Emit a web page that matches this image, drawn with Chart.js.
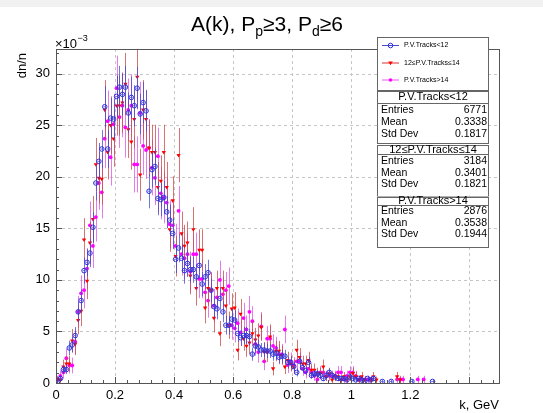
<!DOCTYPE html>
<html>
<head>
<meta charset="utf-8">
<script src="https://cdn.jsdelivr.net/npm/chart.js@4.4.1/dist/chart.umd.min.js"></script>
<style>
  html, body { margin: 0; padding: 0; background: #fff; }
  #wrap { position: relative; width: 543px; height: 413px; }
  #strip { position: absolute; left: 0; top: 0; width: 543px; height: 7px; background: #f1f1f1; }
</style>
</head>
<body>
<div id="wrap"><canvas id="c" width="543" height="413"></canvas><div id="strip"></div></div>
<script>
// histogram binning, k in GeV
const binWidth = 0.01;

const seriesNames = ["P.V.Tracks<12", "12\u2264P.V.Tracks\u226414", "P.V.Tracks>14"];
const entries = [6771, 3184, 2876];
const means = ["0.3338", "0.3401", "0.3538"];
const stdDevs = ["0.1817", "0.1821", "0.1944"];

const xTicks = [0, 0.2, 0.4, 0.6, 0.8, 1, 1.2, 1.4];
const yTicks = [0, 5, 10, 15, 20, 25, 30];

// dn/n per bin, x10^-3 (null = empty bin)
const lowTracks = [
  0.15, 0.44, 1.3, 1.3, 3.4, 3.7, 4.6, 6.9, 8.0, 10.9,
  11.7, 12.6, 15.1, 19.4, 21.5, 22.7, 26.8, 22.7, 25.7, 25.6,
  27.8, 28.7, 28.0, 28.7, 26.2, 27.7, 26.9, 28.6, 26.1, 27.2,
  26.4, 18.6, 20.7, 21.0, 17.9, 17.8, 18.0, 16.6, 15.8, 14.5,
  12.0, 13.1, 12.1, 10.9, 11.6, 11.0, 11.0, 10.3, 11.4, 9.6,
  10.3, 10.7, 9.0, 7.4, 7.2, 8.2, 6.9, 5.6, 5.6, 6.2,
  6.1, 4.8, 4.4, 4.6, 4.6, 4.5, 2.8, 3.6, 3.5, 3.2,
  3.2, 3.1, 3.1, 2.8, 2.9, 2.5, 2.6, 2.6, 2.0, 2.0,
  1.6, 1.03, 2.1, 1.48, 1.18, 2.0, 0.74, 0.89, 0.89, 0.74,
  0.44, 0.74, 1.03, 0.74, 0.59, 0.44, 0.44, 0.44, 0.3, 0.59,
  0.44, 0.3, 0.44, 0.3, 0.15, 0.44, 0.3, 0.44, null, null,
  0.15, null, null, 0.15, null, null, null, null, null, null,
  0.15, null, null, null, null, null, null, 0.15
];
const midTracks = [
  0.31, 0.31, 1.57, 1.88, 1.88, 4.1, 3.8, 6.1, 7.0, 13.9,
  9.9, 13.6, 15.9, 21.2, 19.9, 19.8, 26.5, 22.4, 25.0, 23.7,
  26.9, 26.9, 27.2, 29.0, 24.6, 23.4, 25.6, 29.7, 20.2, 26.5,
  25.6, 22.8, 22.4, 22.4, 19.0, 19.6, 22.4, 19.0, 14.9, 17.7,
  12.3, 22.1, 14.5, 13.3, 13.6, 10.4, 14.9, 9.2, 12.9, 12.9,
  7.3, 9.2, 9.0, 6.3, 9.2, 4.8, 9.2, 7.5, 5.6, 7.2,
  7.3, 3.2, 6.7, 4.3, 3.6, 3.9, 4.8, 4.2, 4.6, 5.4,
  3.0, 3.0, 4.5, 1.4, 3.1, 3.1, 2.7, 1.57, 2.2, 1.88,
  1.57, 3.2, 2.5, 1.88, 1.88, 2.2, 1.26, 1.26, 0.94, 0.94,
  1.57, 0.63, 0.94, 0.31, 0.63, 0.63, 0.31, 0.63, 0.31, 0.63,
  0.94, 0.63, 0.31, 0.63, 0.31, null, 0.31, 0.63, 0.31, null,
  null, null, null, null, null, 0.63, 0.31
];
const highTracks = [
  0.35, 0.7, 1.04, 2.4, 1.7, 1.7, 4.0, 6.9, 8.7, 9.0,
  11.1, 15.3, 13.3, 16.1, 19.4, 18.5, 23.7, 25.4, 21.9, 25.1,
  28.6, 25.8, 26.9, 24.8, 26.5, 26.9, 21.2, 21.2, 26.2, 23.0,
  22.6, 22.8, 20.9, 19.9, 22.0, 18.4, 18.0, 17.5, 15.4, 15.3,
  13.3, 16.7, 12.5, 12.1, 12.5, 10.8, 12.5, 12.5, 10.1, 10.1,
  8.8, 8.0, 9.0, 7.5, 8.3, 10.0, 8.6, 9.0, 9.4, 5.6,
  5.3, 5.8, 4.9, 6.3, 5.2, 6.9, 6.0, 3.8, 3.0, 5.5,
  2.1, 4.3, 4.3, 3.6, 3.4, 2.8, 2.8, 5.2, 1.74, 2.1,
  1.74, 2.1, 2.1, 1.39, 1.04, 1.39, 1.04, 0.7, 0.35, 1.04,
  1.04, 0.7, 0.7, 0.7, 0.7, 1.04, 1.04, 0.35, 0.7, 1.04,
  1.04, 0.7, 0.35, 0.35, 0.35, 0.35, 0.35, null, null, null,
  null, null, null, null, null, 0.35, 0.35, 0.35, null, null,
  null, null, 0.35, null, 0.35
];

const FONT = "'Liberation Sans', Arial, Helvetica, sans-serif";

function toPoints(vals, n) {
  const pts = [];
  vals.forEach((v, i) => {
    if (v === null) return;
    // poisson error of the bin, same units
    pts.push({ x: (i + 0.5) * binWidth, y: v, ey: Math.sqrt(v * 1000 / n) });
  });
  return pts;
}

const errColors = ["rgba(70,70,215,0.75)", "rgba(200,70,70,0.75)", "rgba(225,90,230,0.8)"];

const errorBars = {
  id: "errorBars",
  beforeDatasetDraw(chart, args) {
    const { ctx, chartArea: a, scales: { x, y } } = chart;
    const ds = chart.data.datasets[args.index];
    ctx.save();
    ctx.beginPath();
    ctx.rect(a.left, a.top, a.right - a.left, a.bottom - a.top);
    ctx.clip();
    ctx.strokeStyle = errColors[args.index];
    ctx.lineWidth = 1;
    ds.data.forEach(p => {
      const px = Math.round(x.getPixelForValue(p.x)) + 0.5;
      const py = y.getPixelForValue(p.y);
      ctx.beginPath();
      ctx.moveTo(px, y.getPixelForValue(p.y + p.ey));
      ctx.lineTo(px, y.getPixelForValue(Math.max(0, p.y - p.ey)));
      ctx.moveTo(x.getPixelForValue(p.x - binWidth / 2), py);
      ctx.lineTo(x.getPixelForValue(p.x + binWidth / 2), py);
      ctx.stroke();
    });
    ctx.restore();
  }
};

function drawTitle(ctx) {
  const parts = [
    { t: "A(k), P" }, { t: "p", sub: true }, { t: "\u22653, P" }, { t: "d", sub: true }, { t: "\u22656" }
  ];
  const big = "21px " + FONT, small = "14px " + FONT;
  let w = 0;
  parts.forEach(p => { ctx.font = p.sub ? small : big; w += ctx.measureText(p.t).width; });
  let cx = 267 - w / 2;
  ctx.fillStyle = "#000";
  ctx.textAlign = "left";
  ctx.textBaseline = "alphabetic";
  parts.forEach(p => {
    ctx.font = p.sub ? small : big;
    ctx.fillText(p.t, cx, p.sub ? 36 : 31);
    cx += ctx.measureText(p.t).width;
  });
}

function drawMarker(ctx, k, cx, cy) {
  ctx.save();
  if (k === 0) {
    ctx.strokeStyle = "#3030d8"; ctx.lineWidth = 1;
    ctx.beginPath(); ctx.arc(cx, cy, 2.3, 0, Math.PI * 2); ctx.stroke();
  } else if (k === 1) {
    ctx.fillStyle = "#ff0000";
    ctx.beginPath(); ctx.moveTo(cx - 2.3, cy - 1.6); ctx.lineTo(cx + 2.3, cy - 1.6); ctx.lineTo(cx, cy + 2.3); ctx.closePath(); ctx.fill();
  } else {
    ctx.fillStyle = "#ff00ff";
    ctx.beginPath(); ctx.arc(cx, cy, 1.8, 0, Math.PI * 2); ctx.fill();
  }
  ctx.restore();
}

const lineColors = ["#4a4ad6", "#e03030", "#ee55ee"];

const decorations = {
  id: "decorations",
  beforeDatasetsDraw(chart) {
    const { ctx, chartArea: a, scales: { x, y } } = chart;
    ctx.save();
    ctx.strokeStyle = "#c6c6c6";
    ctx.lineWidth = 1;
    ctx.setLineDash([3, 3]);
    xTicks.forEach(t => {
      if (t === 0) return;
      const px = Math.round(x.getPixelForValue(t)) + 0.5;
      ctx.beginPath(); ctx.moveTo(px, a.top); ctx.lineTo(px, a.bottom); ctx.stroke();
    });
    yTicks.forEach(t => {
      if (t === 0) return;
      const py = Math.round(y.getPixelForValue(t)) + 0.5;
      ctx.beginPath(); ctx.moveTo(a.left, py); ctx.lineTo(a.right, py); ctx.stroke();
    });
    ctx.restore();
  },
  afterDatasetsDraw(chart) {
    const { ctx, chartArea: a, scales: { x, y } } = chart;
    ctx.save();
    ctx.strokeStyle = "#555";
    ctx.lineWidth = 1;
    // inner tick marks, 5 minor divisions
    for (let i = 0; i * 0.04 <= 1.5 + 1e-9; i++) {
      const px = Math.round(x.getPixelForValue(i * 0.04)) + 0.5;
      const len = i % 5 === 0 ? 6 : 3;
      ctx.beginPath(); ctx.moveTo(px, a.bottom); ctx.lineTo(px, a.bottom - len); ctx.stroke();
    }
    for (let i = 0; i <= 32; i++) {
      const py = Math.round(y.getPixelForValue(i)) + 0.5;
      const len = i % 5 === 0 ? 6 : 3;
      ctx.beginPath(); ctx.moveTo(a.left, py); ctx.lineTo(a.left + len, py); ctx.stroke();
    }
    ctx.strokeRect(Math.round(a.left) + 0.5, Math.round(a.top) + 0.5, Math.round(a.right - a.left), Math.round(a.bottom - a.top));
    ctx.restore();
  },
  afterDraw(chart) {
    const { ctx } = chart;
    ctx.save();
    drawTitle(ctx);

    ctx.fillStyle = "#000";
    ctx.font = "13px " + FONT;
    ctx.textAlign = "left";
    ctx.textBaseline = "alphabetic";
    ctx.fillText("\u00d710", 55, 48);
    const w10 = ctx.measureText("\u00d710").width;
    ctx.font = "9px " + FONT;
    ctx.fillText("\u22123", 55 + w10 + 0.5, 41);

    ctx.font = "13px " + FONT;
    ctx.textAlign = "right";
    ctx.fillText("k, GeV", 499, 409);

    ctx.save();
    ctx.translate(22, 53);
    ctx.rotate(-Math.PI / 2);
    ctx.textAlign = "right";
    ctx.textBaseline = "middle";
    ctx.fillText("dn/n", 0, 0);
    ctx.restore();

    // legend box
    ctx.fillStyle = "#fff";
    ctx.strokeStyle = "#666";
    ctx.lineWidth = 1;
    ctx.fillRect(377, 37, 112, 54);
    ctx.strokeRect(377.5, 37.5, 111, 53);
    const rows = [45.5, 63, 80];
    rows.forEach((ry, k) => {
      ctx.strokeStyle = lineColors[k];
      ctx.beginPath(); ctx.moveTo(382, ry); ctx.lineTo(399, ry); ctx.stroke();
      drawMarker(ctx, k, 390.5, ry);
      ctx.fillStyle = "#000";
      ctx.font = "7px " + FONT;
      ctx.textAlign = "left";
      ctx.textBaseline = "middle";
      ctx.fillText(seriesNames[k], 404, ry);
    });

    // stat boxes
    const boxes = [
      { top: 91, div: 102.5, bottom: 143, title: 96.5, r: [110, 122.3, 134.3] },
      { top: 145, div: 154, bottom: 195.5, title: 149.5, r: [160.7, 172.7, 184.3] },
      { top: 196.5, div: 205, bottom: 246.5, title: 201, r: [211, 222.7, 234.3] }
    ];
    boxes.forEach((b, k) => {
      ctx.fillStyle = "#fff";
      ctx.fillRect(377, b.top, 112, b.bottom - b.top);
      ctx.strokeStyle = "#666";
      ctx.strokeRect(377.5, Math.round(b.top) + 0.5, 111, Math.round(b.bottom - b.top));
      ctx.beginPath(); ctx.moveTo(377.5, Math.round(b.div) + 0.5); ctx.lineTo(488.5, Math.round(b.div) + 0.5); ctx.stroke();
      ctx.fillStyle = "#000";
      ctx.textBaseline = "middle";
      ctx.font = "11px " + FONT;
      ctx.textAlign = "center";
      ctx.fillText(seriesNames[k], 433, b.title);
      ctx.font = "10.5px " + FONT;
      const labels = ["Entries", "Mean", "Std Dev"];
      const vals = [String(entries[k]), means[k], stdDevs[k]];
      labels.forEach((l, j) => {
        ctx.textAlign = "left";
        ctx.fillText(l, 381, b.r[j]);
        ctx.textAlign = "right";
        ctx.fillText(vals[j], 487, b.r[j]);
      });
    });
    ctx.restore();
  }
};

const isMult = (v, s) => Math.abs(v / s - Math.round(v / s)) < 1e-6;

new Chart(document.getElementById("c"), {
  type: "scatter",
  data: {
    datasets: [
      {
        label: seriesNames[0],
        data: toPoints(lowTracks, entries[0]),
        pointStyle: "circle",
        pointRadius: 2.3,
        borderWidth: 1,
        borderColor: "#3030d8",
        backgroundColor: "rgba(0,0,0,0)"
      },
      {
        label: seriesNames[1],
        data: toPoints(midTracks, entries[1]),
        pointStyle: "triangle",
        rotation: 180,
        pointRadius: 2.4,
        borderWidth: 0,
        borderColor: "#ff0000",
        backgroundColor: "#ff0000"
      },
      {
        label: seriesNames[2],
        data: toPoints(highTracks, entries[2]),
        pointStyle: "circle",
        pointRadius: 1.9,
        borderWidth: 0,
        borderColor: "#ff00ff",
        backgroundColor: "#ff00ff"
      }
    ]
  },
  options: {
    responsive: false,
    animation: false,
    layout: { padding: { left: 0, right: 44, top: 49, bottom: 0 } },
    plugins: {
      legend: { display: false },
      title: { display: false },
      tooltip: { enabled: false }
    },
    scales: {
      x: {
        type: "linear",
        min: 0,
        max: 1.5,
        afterFit: s => { s.height = 30; },
        grid: { display: false, drawTicks: false },
        border: { display: false },
        ticks: {
          stepSize: 0.2,
          padding: 5,
          color: "#000",
          font: { family: FONT, size: 13 },
          maxRotation: 0,
          autoSkip: false,
          callback: v => (isMult(v, 0.2) ? String(Math.round(v * 10) / 10) : "")
        }
      },
      y: {
        min: 0,
        max: 32.4,
        afterFit: s => { s.width = 56; },
        grid: { display: false, drawTicks: false },
        border: { display: false },
        ticks: {
          stepSize: 5,
          padding: 6,
          color: "#000",
          font: { family: FONT, size: 13 },
          callback: v => (isMult(v, 5) ? String(v) : "")
        }
      }
    }
  },
  plugins: [errorBars, decorations]
});
</script>
</body>
</html>
